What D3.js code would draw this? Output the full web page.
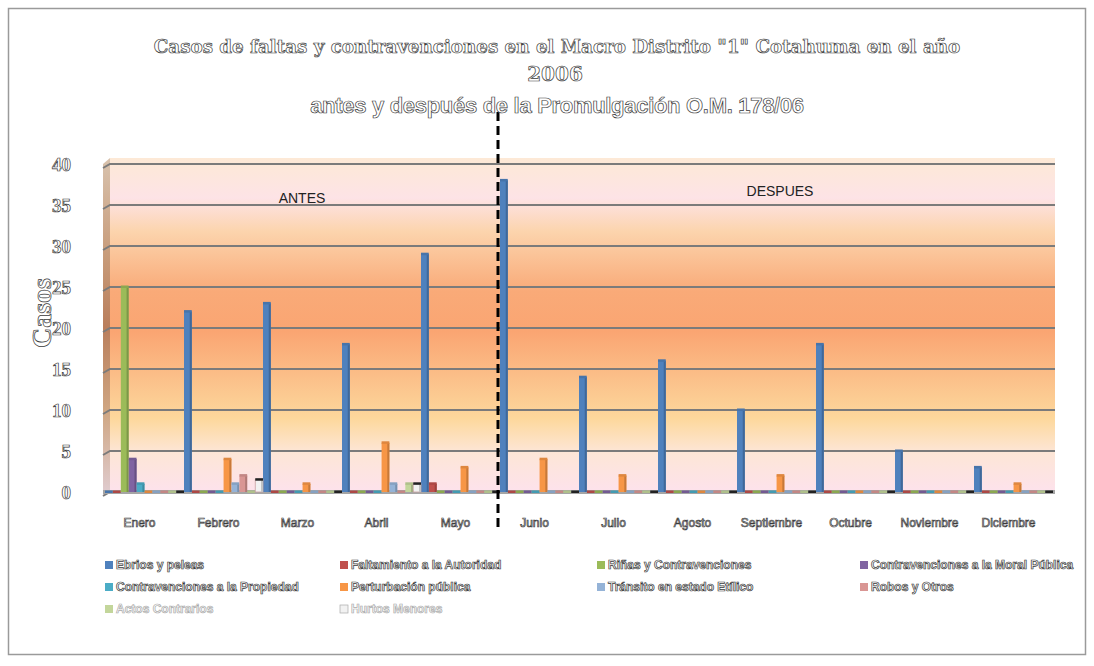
<!DOCTYPE html>
<html>
<head>
<meta charset="utf-8">
<script src="https://cdn.jsdelivr.net/npm/d3@7"></script>
<style>
  body { margin: 0; background: #fff; }
  .hollow { fill: #fff; stroke: #3a3a3a; stroke-width: 0.7px; }
</style>
</head>
<body>
<svg id="chart" width="1094" height="666"></svg>
<script>
// months on the x axis
const months = ['Enero', 'Febrero', 'Marzo', 'Abril', 'Mayo', 'Junio', 'Julio',
  'Agosto', 'Septiembre', 'Octubre', 'Noviembre', 'Diciembre'];

// series names (legend order)
const seriesNames = [
  'Ebrios y peleas',
  'Faltamiento a la Autoridad',
  'Riñas y Contravenciones',
  'Contravenciones a la Moral Pública',
  'Contravenciones a la Propiedad',
  'Perturbación pública',
  'Tránsito en estado Etílico',
  'Robos y Otros',
  'Actos Contrarios',
  'Hurtos Menores'
];
const seriesColors = ['#4f81bd', '#c0504d', '#9bbb59', '#8064a2', '#4bacc6',
  '#f79646', '#95b3d7', '#d99694', '#c3d69b', '#f2f2f2'];

// values per series, one per month
const ebrios        = [0, 22, 23, 18, 29, 38, 14, 16, 10, 18, 5, 3];
const faltamiento   = [0, 0, 0, 0, 1, 0, 0, 0, 0, 0, 0, 0];
const rinas         = [25, 0, 0, 0, 0, 0, 0, 0, 0, 0, 0, 0];
const contraMoral   = [4, 0, 0, 0, 0, 0, 0, 0, 0, 0, 0, 0];
const contraProp    = [1, 0, 0, 0, 0, 0, 0, 0, 0, 0, 0, 0];
const perturbacion  = [0, 4, 1, 6, 3, 4, 2, 0, 2, 0, 0, 1];
const transito      = [0, 1, 0, 1, 0, 0, 0, 0, 0, 0, 0, 0];
const robos         = [0, 2, 0, 0, 0, 0, 0, 0, 0, 0, 0, 0];
const actos         = [0, 0, 0, 1, 0, 0, 0, 0, 0, 0, 0, 0];
const hurtos        = [0, 1.5, 0, 1, 0, 0, 0, 0, 0, 0, 0, 0];
const seriesValues = [ebrios, faltamiento, rinas, contraMoral, contraProp,
  perturbacion, transito, robos, actos, hurtos];

const yTicks = [0, 5, 10, 15, 20, 25, 30, 35, 40];
const titleLines = [
  'Casos de faltas y contravenciones en el Macro Distrito "1" Cotahuma en el año',
  '2006',
  'antes y después de la Promulgación O.M. 178/06'
];

const svg = d3.select('#chart');

// outer frame
svg.append('rect').attr('x', 8.5).attr('y', 8.5).attr('width', 1077).attr('height', 646)
  .attr('fill', '#fff').attr('stroke', '#9a9a9a').attr('stroke-width', 1.5);

const plot = { left: 110, right: 1055, top: 158, bottom: 492 };

const x = d3.scaleBand().domain(months).range([105, 1053]).padding(0);
const xs = d3.scaleBand().domain(d3.range(seriesNames.length)).range([0, x.bandwidth()]).paddingInner(0.02);
const y = d3.scaleLinear().domain([0, 40]).range([492, 164]);

// back wall gradient
const defs = svg.append('defs');
const wall = defs.append('linearGradient').attr('id', 'wall').attr('x1', 0).attr('y1', 0).attr('x2', 0).attr('y2', 1);
[[0, '#fde9d6'], [0.12, '#fde3e6'], [0.22, '#fcd4ad'], [0.4, '#f9aa78'], [0.52, '#faa572'],
 [0.65, '#fbbe88'], [0.78, '#fdd89c'], [0.88, '#fde6d6'], [1, '#fde2ec']]
  .forEach(([o, c]) => wall.append('stop').attr('offset', o).attr('stop-color', c));
const side = defs.append('linearGradient').attr('id', 'side').attr('x1', 0).attr('y1', 0).attr('x2', 0).attr('y2', 1);
[[0, '#d8c2ad'], [0.3, '#c79a78'], [0.5, '#b97e5c'], [0.75, '#cfa682'], [1, '#e0cdd2']]
  .forEach(([o, c]) => side.append('stop').attr('offset', o).attr('stop-color', c));

svg.append('rect').attr('x', plot.left).attr('y', plot.top)
  .attr('width', plot.right - plot.left).attr('height', plot.bottom - plot.top)
  .attr('fill', 'url(#wall)');
svg.append('path')
  .attr('d', `M103,${plot.top + 6}L${plot.left},${plot.top}L${plot.left},${plot.bottom}L103,${plot.bottom + 4}Z`)
  .attr('fill', 'url(#side)');

// gridlines
const grid = svg.append('g');
yTicks.forEach(t => {
  grid.append('path')
    .attr('d', `M103,${y(t) + 4}L${plot.left},${y(t)}L${plot.right},${y(t)}`)
    .attr('fill', 'none').attr('stroke', '#7b7b7b').attr('stroke-width', 2);
});
// floor
svg.append('rect').attr('x', 103).attr('y', 490).attr('width', plot.right - 103).attr('height', 4)
  .attr('fill', '#a5a5a5');

// bars
const bars = svg.append('g');
seriesValues.forEach((vals, si) => {
  const c = d3.color(seriesColors[si]);
  const g = bars.append('g');
  months.forEach((m, mi) => {
    const v = vals[mi];
    const bx = x(m) + xs(si);
    const bw = xs.bandwidth();
    const top = y(v);
    if (v > 0) {
      g.append('rect').attr('x', bx).attr('y', top).attr('width', bw).attr('height', y(0) - top)
        .attr('fill', c.formatHex())
        .attr('stroke', si === 9 ? '#c9a0a0' : 'none').attr('stroke-width', 0.8);
      g.append('rect').attr('x', bx + bw - 2).attr('y', top).attr('width', 2).attr('height', y(0) - top)
        .attr('fill', c.darker(0.6).formatHex());
    }
    g.append('rect').attr('x', bx).attr('y', top - 1.5).attr('width', bw).attr('height', 2.5)
      .attr('fill', si === 9 ? '#222' : c.darker(0.3).formatHex());
  });
});

// dashed separator between Mayo and Junio
const sepX = x('Junio') - 2;
svg.append('line').attr('x1', sepX).attr('x2', sepX).attr('y1', 112).attr('y2', 530)
  .attr('stroke', '#000').attr('stroke-width', 3).attr('stroke-dasharray', '9,5');

// y axis labels
const yAxis = svg.append('g').attr('transform', 'translate(71,0)')
  .call(d3.axisLeft(y).tickValues(yTicks).tickSize(0).tickPadding(0));
yAxis.select('.domain').remove();
yAxis.selectAll('text').attr('class', 'hollow')
  .attr('font-family', 'Liberation Serif, serif').attr('font-weight', 'bold').attr('font-size', 19);

svg.append('text').attr('class', 'hollow')
  .attr('transform', 'translate(51,313) rotate(-90)')
  .attr('text-anchor', 'middle')
  .attr('font-family', 'Liberation Serif, serif').attr('font-weight', 'bold').attr('font-size', 28)
  .text('Casos');

// x axis labels
const xAxis = svg.append('g').attr('transform', 'translate(-5,518)')
  .call(d3.axisBottom(x).tickSize(0).tickPadding(0));
xAxis.select('.domain').remove();
xAxis.selectAll('text').attr('class', 'hollow')
  .attr('font-family', 'Liberation Sans Narrow, Liberation Sans, sans-serif').attr('font-size', 12);

// ANTES / DESPUES
svg.append('text').attr('x', 302).attr('y', 203).attr('text-anchor', 'middle')
  .attr('font-family', 'Liberation Sans Narrow, Liberation Sans, sans-serif').attr('font-size', 14)
  .attr('fill', '#222').text('ANTES');
svg.append('text').attr('x', 780).attr('y', 196).attr('text-anchor', 'middle')
  .attr('font-family', 'Liberation Sans Narrow, Liberation Sans, sans-serif').attr('font-size', 14)
  .attr('fill', '#222').text('DESPUES');

// title
svg.append('text').attr('class', 'hollow').attr('x', 557).attr('y', 53).attr('text-anchor', 'middle')
  .attr('font-family', 'DejaVu Serif, serif').attr('font-weight', 'bold').attr('font-size', 18.3)
  .text(titleLines[0]);
svg.append('text').attr('class', 'hollow').attr('x', 555).attr('y', 81).attr('text-anchor', 'middle')
  .attr('font-family', 'DejaVu Serif, serif').attr('font-weight', 'bold').attr('font-size', 20)
  .text(titleLines[1]);
svg.append('text').attr('class', 'hollow').attr('x', 557).attr('y', 113).attr('text-anchor', 'middle')
  .attr('font-family', 'Liberation Sans Narrow, Liberation Sans, sans-serif').attr('font-weight', 'bold').attr('font-size', 22)
  .attr('letter-spacing', -0.3)
  .text(titleLines[2]);

// legend
const legendCols = [105, 340, 597, 860];
const legendRows = [565, 587, 609];
const legend = svg.append('g');
seriesNames.forEach((name, i) => {
  const lx = legendCols[i % 4];
  const ly = legendRows[Math.floor(i / 4)];
  legend.append('rect').attr('x', lx).attr('y', ly - 4).attr('width', 8).attr('height', 8)
    .attr('fill', seriesColors[i]).attr('stroke', i === 9 ? '#aaa' : 'none').attr('stroke-width', 0.7);
  legend.append('text').attr('class', 'hollow').attr('x', lx + 11).attr('y', ly + 4)
    .attr('font-family', 'Liberation Sans Narrow, Liberation Sans, sans-serif').attr('font-weight', 'bold')
    .attr('font-size', 12)
    .style('stroke', i >= 8 ? '#aaa' : '#3a3a3a')
    .text(name);
});
</script>
</body>
</html>
